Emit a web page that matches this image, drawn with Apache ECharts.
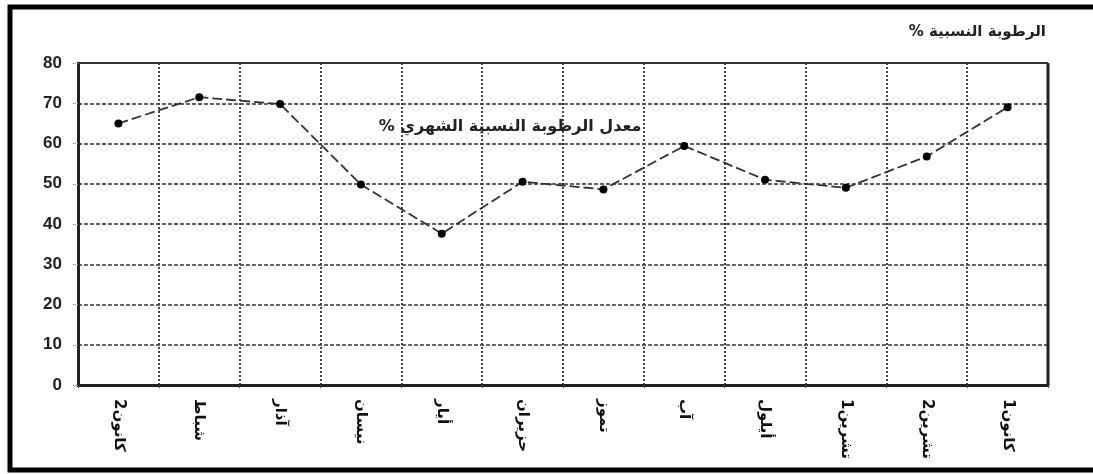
<!DOCTYPE html>
<html>
<head>
<meta charset="utf-8" />
<script src="https://cdn.jsdelivr.net/npm/echarts@6/dist/echarts.min.js"></script>
<style>
  html, body { margin: 0; padding: 0; background: #fff; }
  #chart { width: 1093px; height: 474px; }
</style>
</head>
<body>
<div id="chart" dir="rtl"></div>
<script>
// months, Jan -> Dec
const months = ['كانون2', 'شباط', 'آذار', 'نيسان', 'أيار', 'حزيران', 'تموز', 'آب', 'أيلول', 'تشرين1', 'تشرين2', 'كانون1']
// monthly mean relative humidity (%)
const humidity = [65, 71.5, 69.8, 49.8, 37.6, 50.5, 48.6, 59.4, 51, 49, 56.8, 69]
const yTicks = [0, 10, 20, 30, 40, 50, 60, 70, 80]

const chart = echarts.init(document.getElementById('chart'))

const gridLeft = 78
const gridRight = 45

chart.setOption({
  animation: false,
  backgroundColor: '#fff',
  textStyle: { fontFamily: 'DejaVu Sans' },
  title: {
    text: 'الرطوبة النسبية %',
    right: 42,
    top: 20,
    textStyle: { color: '#222', fontSize: 15, fontWeight: 'bold', fontFamily: 'DejaVu Sans' },
  },
  grid: { left: gridLeft, right: gridRight, top: 63, bottom: 89, containLabel: false },
  xAxis: {
    type: 'category',
    data: months,
    boundaryGap: true,
    axisLine: { lineStyle: { color: '#222', width: 3 } },
    axisTick: { show: true, length: 3, lineStyle: { color: '#444' } },
    axisLabel: {
      rotate: -90,
      color: '#111',
      fontSize: 15,
      fontWeight: 'bold',
      margin: 14,
      interval: 0,
    },
    splitLine: {
      show: true,
      lineStyle: { color: '#444', type: 'dotted', width: 2 },
    },
  },
  yAxis: {
    type: 'value',
    min: 0,
    max: 80,
    interval: 10,
    axisLine: { show: true, lineStyle: { color: '#222', width: 3 } },
    axisTick: { show: true, length: 5, lineStyle: { color: '#777', type: 'dotted' } },
    axisLabel: {
      color: '#222',
      fontSize: 17,
      fontWeight: 'bold',
      fontFamily: 'Liberation Sans',
      margin: 16,
      formatter: (v) => (yTicks.includes(v) ? String(v) : ''),
    },
    splitLine: {
      lineStyle: { color: '#333', type: [4, 2], width: 1.5 },
    },
  },
  series: [
    {
      type: 'line',
      data: humidity,
      symbol: 'circle',
      symbolSize: 8,
      itemStyle: { color: '#000' },
      lineStyle: { color: '#333', width: 1.8, type: [10, 4] },
    },
    // top border of the plot
    {
      type: 'line',
      data: [],
      markLine: {
        silent: true,
        symbol: 'none',
        label: { show: false },
        lineStyle: { color: '#333', type: 'solid', width: 2 },
        data: [{ yAxis: 80 }],
      },
    },
  ],
})

// right border of the plot, at the edge of the last band
const rightX = chart.convertToPixel({ xAxisIndex: 0 }, months.length - 1) + (1093 - gridLeft - gridRight) / months.length / 2

chart.setOption({
  graphic: [
    // outer frame
    {
      type: 'rect',
      shape: { x: 10, y: 7, width: 1100, height: 463 },
      style: { fill: 'none', stroke: '#000', lineWidth: 5 },
      silent: true,
    },
    {
      type: 'text',
      x: 510,
      y: 127,
      style: {
        text: 'معدل الرطوبة النسبية الشهري %',
        fill: '#222',
        fontSize: 16,
        fontWeight: 'bold',
        fontFamily: 'DejaVu Sans',
        align: 'center',
        verticalAlign: 'middle',
      },
    },
    {
      type: 'line',
      shape: { x1: rightX, y1: 63, x2: rightX, y2: 385 },
      style: { stroke: '#222', lineWidth: 3 },
      silent: true,
    },
  ],
})
</script>
</body>
</html>
